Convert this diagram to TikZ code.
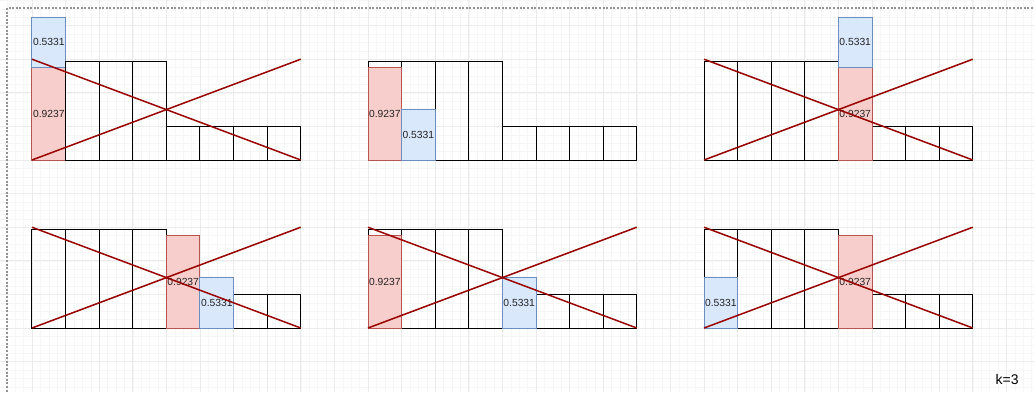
\documentclass[tikz,border=0pt]{standalone}
\usepackage{fontspec}
\setmainfont{Liberation Sans}
\usepackage{xcolor}
\usepackage{tikz}
\definecolor{redfill}{HTML}{F8CECC}
\definecolor{redline}{HTML}{B85450}
\definecolor{bluefill}{HTML}{DAE8FC}
\definecolor{blueline}{HTML}{6C8EBF}
\definecolor{crossred}{HTML}{990000}
\definecolor{labelgray}{HTML}{222222}
\tikzset{
  bar/.style={draw=black,line width=1pt,anchor=south west,inner sep=0pt,outer sep=0pt,
    minimum width=33.6pt,font=\fontsize{10.3}{12}\selectfont,text=labelgray},
  tall/.style={bar,minimum height=99pt},
  short/.style={bar,minimum height=33.6pt},
  redbar/.style={bar,fill=redfill,draw=redline,minimum height=92.4pt},
  bluebar/.style={bar,fill=bluefill,draw=blueline,minimum height=50.4pt},
  cross/.style={draw=crossred,line width=1.5pt},
  minor/.style={draw=gray!7,line width=0.5pt},
  major/.style={draw=gray!16,line width=0.7pt},
  frame/.style={draw=gray!85,line width=1.2pt,dash pattern=on 2pt off 1.6pt}
}

\begin{document}
\begin{tikzpicture}[x=33.6pt,y=33.6pt]
\useasboundingbox (-0.952,-1.905) rectangle (29.821,9.762);
% background grid
\draw[minor] (-0.952,-1.905) grid[step=0.25] (29.821,9.762);
\draw[major] (-0.952,-1.905) grid[step=1] (29.821,9.762);
\draw[frame] (-0.744,-2) |- (30,9.524);

% top row
\node[redbar] (p1r) at (0,5) {0.9237};
\node[bluebar] (p1b) at (p1r.north west) {0.5331};
\foreach \i in {1,2,3}{\node[tall] (p1t\i) at (\i,5) {};}
\foreach \i in {4,...,7}{\node[short] (p1s\i) at (\i,5) {};}
\coordinate (p1a) at (0,5); \coordinate (p1b2) at (8,8);
\coordinate (p1c) at (0,8); \coordinate (p1d) at (8,5);
\draw[cross] (p1a) -- (p1b2);
\draw[cross] (p1c) -- (p1d);

\foreach \i in {0,...,3}{\node[tall] (p2t\i) at (10+\i,5) {};}
\foreach \i in {4,...,7}{\node[short] (p2s\i) at (10+\i,5) {};}
\node[redbar] (p2r) at (p2t0.south west) {0.9237};
\node[bluebar] (p2b) at (p2t1.south west) {0.5331};

\foreach \i in {0,...,3}{\node[tall] (p3t\i) at (20+\i,5) {};}
\foreach \i in {5,6,7}{\node[short] (p3s\i) at (20+\i,5) {};}
\node[redbar] (p3r) at (24,5) {0.9237};
\node[bluebar] (p3b) at (p3r.north west) {0.5331};
\coordinate (p3a) at (20,5); \coordinate (p3b2) at (28,8);
\coordinate (p3c) at (20,8); \coordinate (p3d) at (28,5);
\draw[cross] (p3a) -- (p3b2);
\draw[cross] (p3c) -- (p3d);

% bottom row
\foreach \i in {0,...,3}{\node[tall] (p4t\i) at (\i,0) {};}
\foreach \i in {6,7}{\node[short] (p4s\i) at (\i,0) {};}
\node[redbar] (p4r) at (4,0) {0.9237};
\node[bluebar] (p4b) at (5,0) {0.5331};
\coordinate (p4a) at (0,0); \coordinate (p4b2) at (8,3);
\coordinate (p4c) at (0,3); \coordinate (p4d) at (8,0);
\draw[cross] (p4a) -- (p4b2);
\draw[cross] (p4c) -- (p4d);

\foreach \i in {0,...,3}{\node[tall] (p5t\i) at (10+\i,0) {};}
\foreach \i in {5,6,7}{\node[short] (p5s\i) at (10+\i,0) {};}
\node[redbar] (p5r) at (p5t0.south west) {0.9237};
\node[bluebar] (p5b) at (14,0) {0.5331};
\coordinate (p5a) at (10,0); \coordinate (p5b2) at (18,3);
\coordinate (p5c) at (10,3); \coordinate (p5d) at (18,0);
\draw[cross] (p5a) -- (p5b2);
\draw[cross] (p5c) -- (p5d);

\foreach \i in {0,...,3}{\node[tall] (p6t\i) at (20+\i,0) {};}
\foreach \i in {5,6,7}{\node[short] (p6s\i) at (20+\i,0) {};}
\node[bluebar] (p6b) at (p6t0.south west) {0.5331};
\node[redbar] (p6r) at (24,0) {0.9237};
\coordinate (p6a) at (20,0); \coordinate (p6b2) at (28,3);
\coordinate (p6c) at (20,3); \coordinate (p6d) at (28,0);
\draw[cross] (p6a) -- (p6b2);
\draw[cross] (p6c) -- (p6d);

\node[font=\fontsize{14}{16}\selectfont] (k) at (29.02,-1.52) {k=3};
\end{tikzpicture}
\end{document}
